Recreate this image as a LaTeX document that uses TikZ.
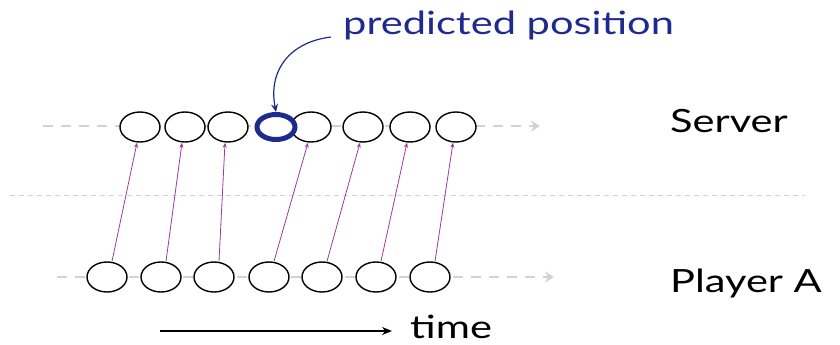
\documentclass[tikz,border=0pt]{standalone}
\usepackage{fontspec}
\setmainfont{Lato}
\usetikzlibrary{shapes.geometric,arrows.meta}
\definecolor{dblue}{HTML}{1F2A8F}
\definecolor{purp}{HTML}{9B3A9B}
\definecolor{lgray}{HTML}{D2D2D2}
\newcommand{\wtxt}[1]{\scalebox{1.3}[1]{#1}}
\tikzset{
  ev/.style={ellipse,draw=black,line width=1.4pt,fill=white,minimum width=40pt,minimum height=30pt,inner sep=0pt},
  pred/.style={ellipse,draw=dblue,line width=5pt,fill=white,minimum width=38pt,minimum height=25pt,inner sep=0pt},
  timeline/.style={draw=lgray,line width=2.5pt,dash pattern=on 10pt off 8pt,-{Stealth[length=9pt,width=11pt]}},
  msg/.style={draw=purp,line width=0.8pt,-{Stealth[length=5pt,width=4pt]}},
  lbl/.style={font=\fontsize{32}{36}\selectfont,anchor=base west,inner sep=0pt},
}
\begin{document}
\begin{tikzpicture}[x=1pt,y=-1pt]
\useasboundingbox (0,0) rectangle (840,345);
% timelines
\coordinate (s0) at (43,126);
\coordinate (s1) at (540,126);
\coordinate (p0) at (57,277);
\coordinate (p1) at (554,277);
\coordinate (m0) at (10,195);
\coordinate (m1) at (805,195);
\draw[timeline] (s0) -- (s1);
\draw[timeline] (p0) -- (p1);
\draw[lgray,line width=0.8pt,dash pattern=on 5pt off 4pt] (m0) -- (m1);
% server events
\foreach \i/\x in {1/140,2/185,3/228,5/311,6/363,7/410,8/456}
  \node[ev] (S\i) at (\x,127) {};
\node[pred] (S4) at (276,127) {};
% player events
\foreach \i/\x in {1/107,2/161,3/214,4/269,5/322,6/376,7/430}
  \node[ev] (P\i) at (\x,277) {};
% messages
\foreach \a/\b in {1/1,2/2,3/3,4/5,5/6,6/7,7/8}
  \draw[msg] ([xshift=5pt]P\a.north) -- ([xshift=-3pt]S\b.south);
% labels
\node[lbl,text=dblue] (pp) at (343,35) {\wtxt{predicted position}};
\coordinate (c0) at (331,37);
\draw[dblue,line width=1.2pt,-{Stealth[length=8pt,width=7pt]}]
   (c0) .. controls (290,42) and (268,70) .. (S4.north);
\node[lbl] (srv) at (670,132) {\wtxt{Server}};
\node[lbl] (pla) at (670,292) {\wtxt{Player A}};
\node[lbl] (tm) at (410,338) {\wtxt{time}};
\coordinate (t0) at (160,331);
\draw[black,line width=1.6pt,-{Stealth[length=10pt,width=8pt]}] (t0) -- ([xshift=-18pt]tm.west|-t0);
\end{tikzpicture}
\end{document}
